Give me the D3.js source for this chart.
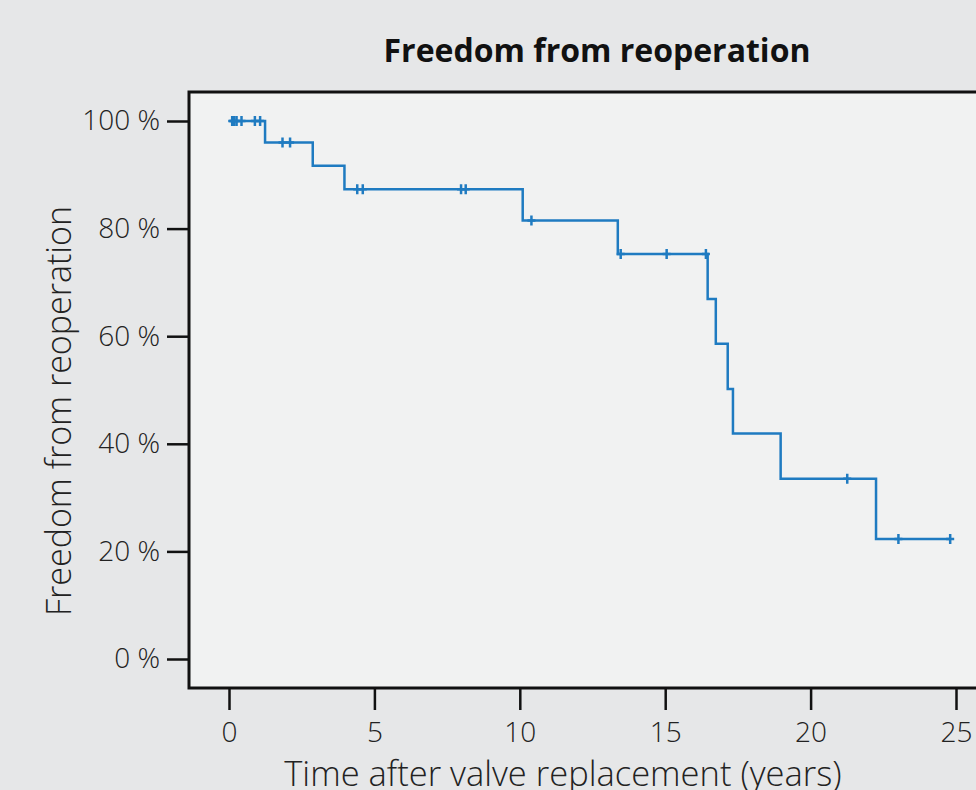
<!DOCTYPE html>
<html>
<head>
<meta charset="utf-8">
<script src="https://cdn.jsdelivr.net/npm/d3@7"></script>
<style>
  body { margin: 0; background: #e6e7e8; }
  svg { display: block; font-family: "Open Sans", sans-serif; }
</style>
</head>
<body>
<svg id="chart" width="976" height="790"></svg>
<script>
// Kaplan-Meier: freedom from reoperation
const eventTimes = [1.24, 2.88, 3.97, 10.1, 13.37, 16.46, 16.74, 17.15, 17.33, 18.97, 22.25]
const survival = [96.0, 91.7, 87.3, 81.5, 75.3, 66.9, 58.6, 50.2, 41.9, 33.5, 22.3]
const censorTimes = [0.11, 0.18, 0.26, 0.43, 0.89, 1.07, 1.84, 2.1, 4.41, 4.6, 7.98, 8.14, 10.4, 13.47, 15.05, 16.4, 21.26, 23.02, 24.8]
const xTicks = [0, 5, 10, 15, 20, 25]
const yTicks = [0, 20, 40, 60, 80, 100]

const title = "Freedom from reoperation"
const xTitle = "Time after valve replacement (years)"
const yTitle = "Freedom from reoperation"

const svg = d3.select("#chart")
const W = 976, H = 790
const box = {left: 189, top: 92, right: 1000, bottom: 688}
const lineColor = "#1f7bc1"

const x = d3.scaleLinear().domain([0, 25]).range([229, 956])
const y = d3.scaleLinear().domain([0, 100]).range([659, 121])

svg.append("rect").attr("width", W).attr("height", H).attr("fill", "#e6e7e8")

svg.append("rect")
  .attr("x", box.left).attr("y", box.top)
  .attr("width", box.right - box.left).attr("height", box.bottom - box.top)
  .attr("fill", "#f1f2f2")
  .attr("stroke", "#111").attr("stroke-width", 3)

// survival value at time t (step function)
function survAt(t) {
  let s = 100
  eventTimes.forEach((e, i) => { if (e <= t) s = survival[i] })
  return s
}

const endTime = d3.max(censorTimes)
const pts = [[0, 100]].concat(eventTimes.map((t, i) => [t, survival[i]]))
pts.push([endTime, survAt(endTime)])

const line = d3.line()
  .x(d => x(d[0]))
  .y(d => y(d[1]))
  .curve(d3.curveStepAfter)

svg.append("path")
  .datum(pts)
  .attr("d", line)
  .attr("fill", "none")
  .attr("stroke", lineColor)
  .attr("stroke-width", 2.5)

svg.selectAll(".censor")
  .data(censorTimes)
  .enter().append("path")
    .attr("class", "censor")
    .attr("transform", d => "translate(" + x(d) + "," + y(survAt(d)) + ")")
    .attr("d", "M-4,0H4M0,-5V5")
    .attr("stroke", lineColor)
    .attr("stroke-width", 2.5)
    .attr("fill", "none")

// axes
const yAxis = svg.append("g")
  .attr("transform", "translate(" + box.left + ",0)")
  .call(d3.axisLeft(y).tickValues(yTicks).tickFormat(d => d + " %").tickSize(22).tickPadding(7))
yAxis.select(".domain").remove()
yAxis.selectAll(".tick line").attr("stroke", "#111").attr("stroke-width", 2.5)
yAxis.selectAll(".tick text")
  .attr("font-family", "Open Sans, sans-serif")
  .attr("font-size", 28).attr("font-weight", 300).attr("fill", "#222")

const xAxis = svg.append("g")
  .attr("transform", "translate(0," + box.bottom + ")")
  .call(d3.axisBottom(x).tickValues(xTicks).tickSize(22).tickPadding(12))
xAxis.select(".domain").remove()
xAxis.selectAll(".tick line").attr("stroke", "#111").attr("stroke-width", 2.5)
xAxis.selectAll(".tick text")
  .attr("font-family", "Open Sans, sans-serif")
  .attr("font-size", 28).attr("font-weight", 300).attr("fill", "#222")

svg.append("text")
  .attr("x", 597).attr("y", 62)
  .attr("text-anchor", "middle")
  .attr("font-size", 32).attr("font-weight", 700).attr("fill", "#111")
  .text(title)

svg.append("text")
  .attr("x", 563).attr("y", 786)
  .attr("text-anchor", "middle")
  .attr("font-size", 34.5).attr("font-weight", 300).attr("fill", "#222")
  .text(xTitle)

svg.append("text")
  .attr("transform", "translate(71,411) rotate(-90)")
  .attr("text-anchor", "middle")
  .attr("font-size", 34).attr("font-weight", 300).attr("fill", "#222")
  .text(yTitle)
</script>
</body>
</html>
